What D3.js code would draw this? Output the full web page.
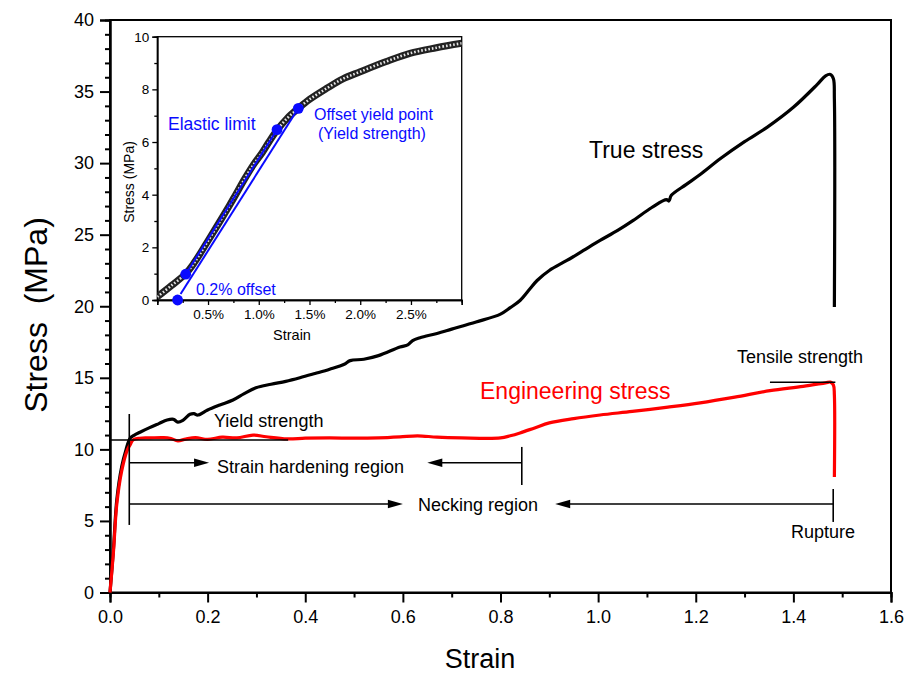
<!DOCTYPE html>
<html><head><meta charset="utf-8">
<script src="https://cdn.jsdelivr.net/npm/d3@7"></script>
<style>
body{margin:0;background:#fff}
svg{display:block}
text{font-family:"Liberation Sans",Arial,Helvetica,sans-serif}
</style></head><body>
<svg id="c" width="906" height="673"></svg>
<script>
// ---------- data ----------
const trueStrain = [0,0.007,0.014,0.024,0.033,0.041,0.05,0.0615,0.08,0.1,0.117,0.13,0.139,0.15,0.164,0.172,0.18,0.2,0.225,0.252,0.275,0.299,0.33,0.36,0.389,0.42,0.45,0.48,0.492,0.52,0.55,0.594,0.61,0.62,0.635,0.67,0.7,0.75,0.8,0.82,0.84,0.86,0.875,0.9,0.936,0.97,1.004,1.04,1.072,1.11,1.14,1.145,1.15,1.18,1.209,1.25,1.3,1.346,1.4,1.449,1.466,1.476,1.482,1.484,1.484];
const trueStress = [0,3.0,6.5,8.8,10.0,10.77,11.0,11.2,11.5,11.8,12.05,12.1,11.9,12.05,12.45,12.5,12.4,12.75,13.1,13.45,13.9,14.3,14.55,14.75,15.0,15.3,15.6,15.95,16.2,16.3,16.55,17.15,17.3,17.6,17.8,18.1,18.4,18.9,19.45,19.9,20.4,21.2,21.8,22.5,23.2,23.9,24.6,25.3,26.0,26.9,27.45,27.35,27.75,28.5,29.2,30.3,31.5,32.5,33.9,35.5,36.1,36.2,35.9,34.5,19.95];
const engStrain = [0,0.007,0.014,0.024,0.036,0.041,0.047,0.06,0.082,0.11,0.125,0.139,0.155,0.175,0.2,0.23,0.26,0.293,0.32,0.363,0.4,0.45,0.5,0.55,0.594,0.63,0.67,0.72,0.8,0.82,0.84,0.87,0.9,0.95,1.004,1.07,1.143,1.209,1.28,1.352,1.42,1.466,1.476,1.482,1.484,1.484];
const engStress = [0,2.8,6.2,8.5,10.0,10.3,10.66,10.78,10.8,10.82,10.75,10.6,10.72,10.82,10.7,10.85,10.8,11.0,10.88,10.73,10.78,10.8,10.78,10.8,10.87,10.95,10.85,10.8,10.8,10.95,11.15,11.5,11.85,12.15,12.4,12.65,12.95,13.25,13.65,14.1,14.4,14.65,14.7,14.5,13.8,8.07];

// inset (strain in %)
const insetStrain = [0,0.14,0.28,0.37,0.5,0.635,0.75,0.864,0.95,1.03,1.1,1.18,1.28,1.39,1.5,1.67,1.83,2.0,2.25,2.49,2.75,3.0];
const insetStress = [0.12,0.55,1.0,1.45,2.25,3.1,3.85,4.62,5.15,5.57,6.0,6.45,6.9,7.28,7.62,8.04,8.4,8.67,9.05,9.37,9.58,9.75];
const keyStrain = [0.2,0.28,1.18,1.39];
const keyStress = [0,0.98,6.47,7.28];

// ticks
const xMajor = [0,0.2,0.4,0.6,0.8,1.0,1.2,1.4,1.6];
const xMinor = [0.1,0.3,0.5,0.7,0.9,1.1,1.3,1.5];
const yMajor = [0,5,10,15,20,25,30,35,40];
const yMinor = d3.range(0,41).filter(v=>v%5!==0);
const insetXMajor = [0,0.5,1.0,1.5,2.0,2.5,3.0];
const insetXLabels = ["","0.5%","1.0%","1.5%","2.0%","2.5%",""];
const insetXMinor = [0.25,0.75,1.25,1.75,2.25,2.75];
const insetYMajor = [0,2,4,6,8,10];
const insetYMinor = [1,3,5,7,9];

// annotation anchors (data units)
const yieldStress = 10.66, yieldLineEnd = 0.365;
const yieldStrainMark = 0.0395, yieldMarkTop = 12.47, yieldMarkBottom = 4.72;
const hardenY = 9.07, hardenArrowTip = 0.203, hardenLeftTip = 0.65, hardenEnd = 0.8436, hardenTickTop = 10.17, hardenTickBot = 7.51;
const neckY = 6.18, neckArrowTip = 0.600, neckLeftTip = 0.912, neckEnd = 1.4816, neckTickTop = 7.23, neckTickBot = 4.93;
const tensileY = 14.69, tensileFrom = 1.352, tensileTo = 1.486;

// ---------- drawing ----------
const svg = d3.select("#c");
const x = d3.scaleLinear([0,1.6],[110,891]);
const y = d3.scaleLinear([0,40],[592.5,20]);

// frame
svg.append("rect").attr("x",110).attr("y",20).attr("width",781).attr("height",572.5)
  .attr("fill","none").attr("stroke","#000").attr("stroke-width",2);

function styleAxis(g){ g.select(".domain").attr("stroke-width",2); g.selectAll(".tick line").attr("stroke-width",2); }

const gx = svg.append("g").attr("transform","translate(0,592.5)")
  .call(d3.axisBottom(x).tickValues(xMajor).tickSize(10).tickPadding(8).tickFormat(d3.format(".1f")));
styleAxis(gx);
gx.selectAll("text").attr("font-size",18).attr("font-family","'Liberation Sans',Arial,sans-serif");
const gxm = svg.append("g").attr("transform","translate(0,592.5)")
  .call(d3.axisBottom(x).tickValues(xMinor).tickSize(5).tickFormat(""));
styleAxis(gxm);

const gy = svg.append("g").attr("transform","translate(110,0)")
  .call(d3.axisLeft(y).tickValues(yMajor).tickSize(10).tickPadding(6));
styleAxis(gy);
gy.selectAll("text").attr("font-size",18).attr("font-family","'Liberation Sans',Arial,sans-serif");
const gym = svg.append("g").attr("transform","translate(110,0)")
  .call(d3.axisLeft(y).tickValues(yMinor).tickSize(5).tickFormat(""));
styleAxis(gym);

// axis titles
svg.append("text").attr("x",480).attr("y",668).attr("text-anchor","middle").attr("font-size",27).text("Strain");
svg.append("text").attr("transform","translate(47,315) rotate(-90)").attr("text-anchor","middle").attr("font-size",32)
  .style("white-space","pre").text("Stress  (MPa)");

// curves
const line = d3.line().curve(d3.curveCatmullRom.alpha(0.5));
svg.append("path").attr("d", line(trueStrain.map((s,i)=>[x(s), y(trueStress[i])])))
  .attr("fill","none").attr("stroke","#000").attr("stroke-width",3.2).attr("stroke-linejoin","round");
svg.append("path").attr("d", line(engStrain.map((s,i)=>[x(s), y(engStress[i])])))
  .attr("fill","none").attr("stroke","#ff0000").attr("stroke-width",3.2).attr("stroke-linejoin","round");

// annotations
const ann = svg.append("g").attr("stroke","#000").attr("stroke-width",1.6);
function seg(x1,y1,x2,y2){ ann.append("line").attr("x1",x1).attr("y1",y1).attr("x2",x2).attr("y2",y2); }
function head(tipX, yy, dir){ // dir +1 points right, -1 left
  const L=15, W=4.2;
  svg.append("path").attr("d",`M${tipX},${yy} L${tipX-dir*L},${yy-W} L${tipX-dir*L},${yy+W} Z`).attr("fill","#000");
}
seg(x(0), y(yieldStress), x(yieldLineEnd), y(yieldStress));
seg(x(yieldStrainMark), y(yieldMarkTop), x(yieldStrainMark), y(yieldMarkBottom));
// strain hardening
seg(x(yieldStrainMark), y(hardenY), x(hardenArrowTip)-10, y(hardenY)); head(x(hardenArrowTip), y(hardenY), 1);
seg(x(hardenLeftTip)+10, y(hardenY), x(hardenEnd), y(hardenY)); head(x(hardenLeftTip), y(hardenY), -1);
seg(x(hardenEnd), y(hardenTickTop), x(hardenEnd), y(hardenTickBot));
// necking
seg(x(yieldStrainMark), y(neckY), x(neckArrowTip)-10, y(neckY)); head(x(neckArrowTip), y(neckY), 1);
seg(x(neckLeftTip)+10, y(neckY), x(neckEnd), y(neckY)); head(x(neckLeftTip), y(neckY), -1);
seg(x(neckEnd), y(neckTickTop), x(neckEnd), y(neckTickBot));
// tensile
seg(x(tensileFrom), y(tensileY), x(tensileTo), y(tensileY));

function label(tx,ty,str,size,color){ svg.append("text").attr("x",tx).attr("y",ty).attr("font-size",size).attr("fill",color||"#000").text(str); }
label(589,158,"True stress",23);
label(480,399,"Engineering stress",23,"#ff0000");
label(737,363,"Tensile strength",18);
label(214,427,"Yield strength",18);
label(217,473,"Strain hardening region",18);
label(418,511,"Necking region",18);
label(791,538,"Rupture",18);

// ---------- inset ----------
const ix = d3.scaleLinear([0,3],[157.3,461.7]);
const iy = d3.scaleLinear([0,10],[300,36.7]);
svg.append("rect").attr("x",157.3).attr("y",36.7).attr("width",304.4).attr("height",263.3)
  .attr("fill","#fff").attr("stroke","#000").attr("stroke-width",1.3);
function styleInset(g){ g.select(".domain").attr("stroke-width",1.3); g.selectAll(".tick line").attr("stroke-width",1.3);
  g.selectAll("text").attr("font-size",13.5).attr("font-family","'Liberation Sans',Arial,sans-serif"); }
const igx = svg.append("g").attr("transform","translate(0,300)")
  .call(d3.axisBottom(ix).tickValues(insetXMajor).tickSize(5).tickPadding(4).tickFormat((d,i)=>insetXLabels[i]));
styleInset(igx);
const igxm = svg.append("g").attr("transform","translate(0,300)")
  .call(d3.axisBottom(ix).tickValues(insetXMinor).tickSize(3).tickFormat(""));
styleInset(igxm);
const igy = svg.append("g").attr("transform","translate(157.3,0)")
  .call(d3.axisLeft(iy).tickValues(insetYMajor).tickSize(5).tickPadding(3));
styleInset(igy);
const igym = svg.append("g").attr("transform","translate(157.3,0)")
  .call(d3.axisLeft(iy).tickValues(insetYMinor).tickSize(3).tickFormat(""));
styleInset(igym);

svg.append("text").attr("x",292).attr("y",340).attr("text-anchor","middle").attr("font-size",14.5).text("Strain");
svg.append("text").attr("transform","translate(134,182) rotate(-90)").attr("text-anchor","middle").attr("font-size",14).text("Stress (MPa)");

// inset curve (dense open-circle markers look)
const iline = d3.line().curve(d3.curveCatmullRom.alpha(0.5));
const ipts = insetStrain.map((s,i)=>[ix(s), iy(insetStress[i])]);
svg.append("clipPath").attr("id","ic").append("rect").attr("x",157.3).attr("y",36.7).attr("width",304.4).attr("height",263.3);
const ig = svg.append("g").attr("clip-path","url(#ic)");
ig.append("path").attr("d", iline(ipts)).attr("fill","none").attr("stroke","#222").attr("stroke-width",7);
ig.append("path").attr("d", iline(ipts)).attr("fill","none").attr("stroke","#e6e6e6").attr("stroke-width",2.6).attr("stroke-dasharray","1.6 2.0");

// blue construction lines and points
const blue = "#0a0aff";
svg.append("line").attr("x1",ix(keyStrain[1])).attr("y1",iy(keyStress[1])).attr("x2",ix(keyStrain[2])).attr("y2",iy(keyStress[2]))
  .attr("stroke",blue).attr("stroke-width",2);
svg.append("line").attr("x1",ix(keyStrain[0])+3).attr("y1",iy(keyStress[0])-6).attr("x2",ix(keyStrain[3])).attr("y2",iy(keyStress[3]))
  .attr("stroke",blue).attr("stroke-width",2);
svg.selectAll("circle.key").data(keyStrain).enter().append("circle").attr("class","key")
  .attr("cx",(d)=>ix(d)).attr("cy",(d,i)=>iy(keyStress[i])).attr("r",5.4).attr("fill",blue);

label(168,130,"Elastic limit",17.5,blue);
label(314,120,"Offset yield point",16,blue);
label(318,139,"(Yield strength)",16,blue);
label(196,295,"0.2% offset",16,blue);
</script>
</body></html>
